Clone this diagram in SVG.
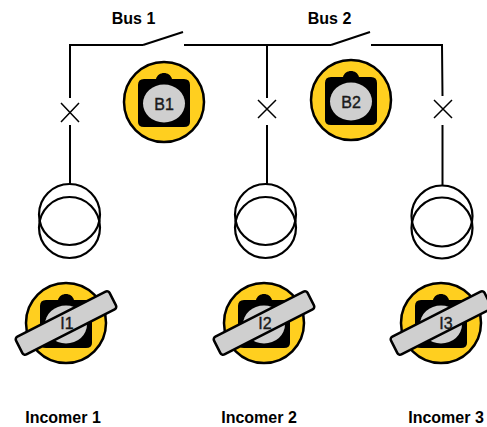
<svg xmlns="http://www.w3.org/2000/svg" width="487" height="427" viewBox="0 0 487 427">
<style>
.w{fill:none;stroke:#000;stroke-width:2}
.x{fill:none;stroke:#000;stroke-width:1.5}
.t{fill:none;stroke:#000;stroke-width:2.2}
.y{fill:#ffcf1f;stroke:#000;stroke-width:2.5}
.k{fill:#000}
.g{fill:#cfcfcf}
.bar{fill:#cfcfcf;stroke:#000;stroke-width:2.5}
text{font-family:"Liberation Sans",Arial,sans-serif;fill:#000;text-anchor:middle}
.l{font-size:16px;font-weight:bold}
.n{font-size:16px;fill:#1a1a1a;stroke:#1a1a1a;stroke-width:.4}
</style>
<defs>
<g id="knob">
<circle class="y" r="40"/>
<path class="k" d="M-20,-23H-8C-6,-31 6,-31 8,-23H20Q26,-23 26,-17V20Q26,25 20,25H-20Q-26,25 -26,20V-17Q-26,-23 -20,-23Z"/>
<ellipse class="g" cx="0" cy="1.500" rx="21" ry="19"/>
</g>
</defs>
<g id="connectors">
<path class="w" d="M143,45H70V98"/>
<path class="w" d="M143,45L183,32"/>
<path class="w" d="M184,45H331"/>
<path class="w" d="M331,45L370,32"/>
<path class="w" d="M371,45H442L442.500,96"/>
<path class="w" d="M267,45V98"/>
<path class="w" d="M70,125V185"/>
<path class="w" d="M267,125V185"/>
<path class="w" d="M442.500,125V186"/>
</g>
<g id="label-bus1"><text class="l" x="133.500" y="24">Bus 1</text></g>
<g id="label-bus2"><text class="l" x="329.500" y="24">Bus 2</text></g>
<g id="breaker-1"><path class="x" d="M61,103L79,122M79,103L61,122"/></g>
<g id="breaker-2"><path class="x" d="M258,100L276,118M276,100L258,118"/></g>
<g id="breaker-3"><path class="x" d="M434,100L452,118M452,100L434,118"/></g>
<g id="transformer-1"><circle class="t" cx="69.500" cy="214.500" r="30.500"/><circle class="t" cx="69.500" cy="227.500" r="30.500"/></g>
<g id="transformer-2"><circle class="t" cx="265.500" cy="214.500" r="30.500"/><circle class="t" cx="265.500" cy="227.500" r="30.500"/></g>
<g id="transformer-3"><circle class="t" cx="442" cy="216" r="30.500"/><circle class="t" cx="442" cy="228" r="30.500"/></g>
<g id="B1"><use href="#knob" x="164" y="102"/><text class="n" x="164" y="110">B1</text></g>
<g id="B2"><use href="#knob" x="351" y="100"/><text class="n" x="351" y="108">B2</text></g>
<g id="I1"><use href="#knob" x="66" y="323"/><rect class="bar" x="13.500" y="313" width="105" height="20" rx="3" transform="rotate(-27 66 323)"/><text class="n" x="67" y="329">I1</text></g>
<g id="I2"><use href="#knob" x="264" y="323"/><rect class="bar" x="211.500" y="313" width="105" height="20" rx="3" transform="rotate(-27 264 323)"/><text class="n" x="265" y="329">I2</text></g>
<g id="I3"><use href="#knob" x="441" y="323"/><rect class="bar" x="388.500" y="313" width="105" height="20" rx="3" transform="rotate(-27 441 323)"/><text class="n" x="446" y="329">I3</text></g>
<g id="label-incomer1"><text class="l" x="63" y="423">Incomer 1</text></g>
<g id="label-incomer2"><text class="l" x="259" y="423">Incomer 2</text></g>
<g id="label-incomer3"><text class="l" x="446" y="423">Incomer 3</text></g>
</svg>
